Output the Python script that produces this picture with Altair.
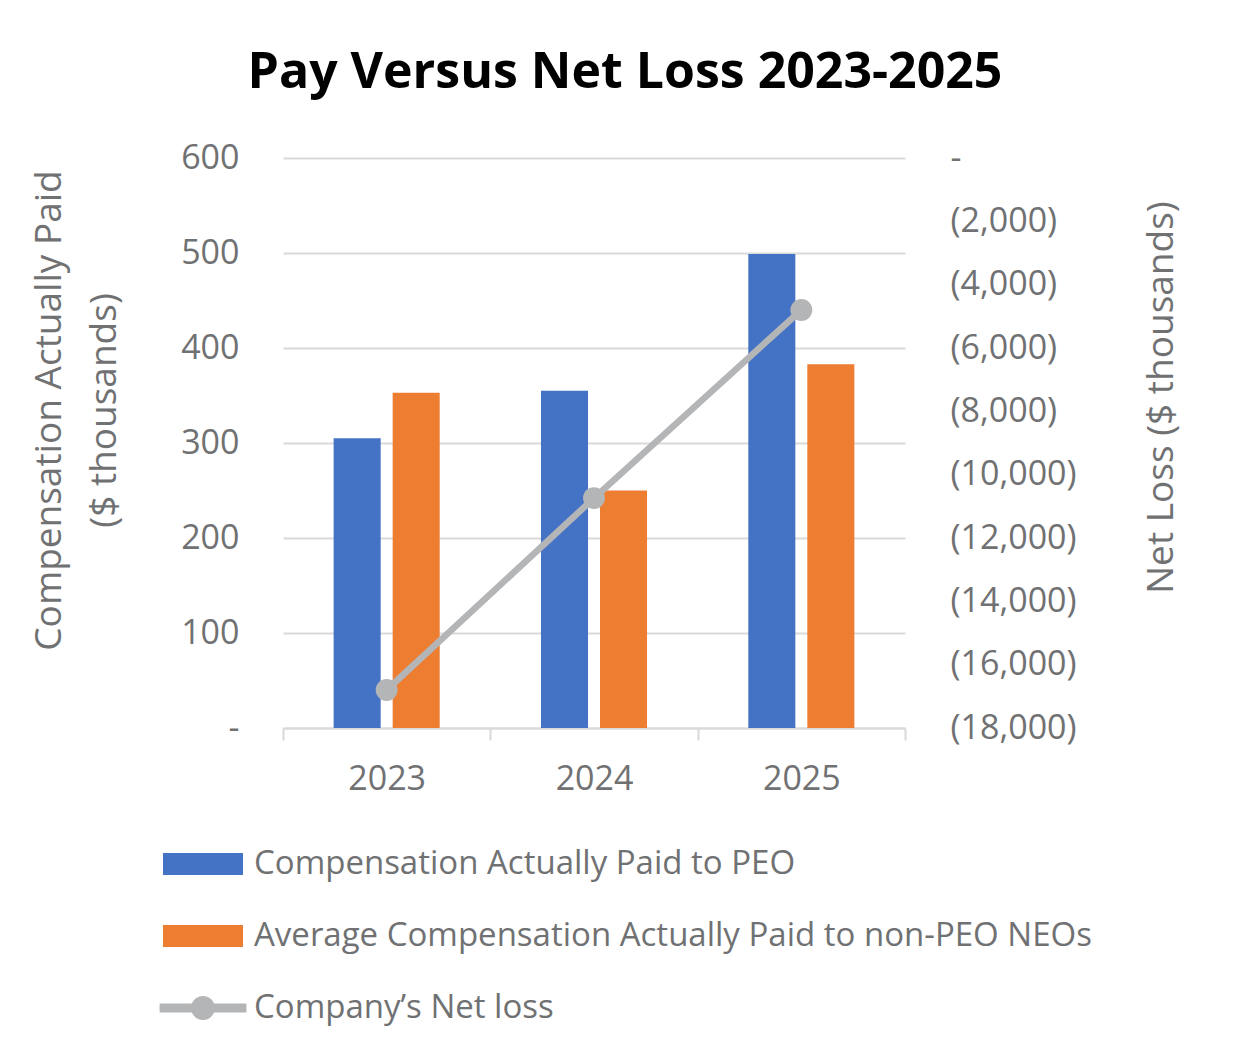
import altair as alt
import pandas as pd

# ---- data ----
years = ["2023", "2024", "2025"]
peo_cap = [305, 355, 499]          # Compensation Actually Paid to PEO ($K)
neo_cap = [353, 250, 383]          # Average CAP to non-PEO NEOs ($K)
net_loss = [-16800, -10740, -4800] # Company's net loss ($K)

bar_series = ["Compensation Actually Paid to PEO",
              "Average Compensation Actually Paid to non-PEO NEOs"]
line_series = "Company\u2019s Net loss"

BLUE, ORANGE, GREY_LINE = "#4472C4", "#ED7D31", "#B4B5B7"
TEXT = "#707173"
GRID = "#D9D9D9"
FONT = "Open Sans"

bar_df = pd.DataFrame({
    "year": years * 2,
    "series": [bar_series[0]] * 3 + [bar_series[1]] * 3,
    "value": peo_cap + neo_cap,
})
line_df = pd.DataFrame({"year": years, "net": net_loss, "series": [line_series] * 3})

rect_path = "M-2,-0.55 L2,-0.55 L2,0.55 L-2,0.55 Z"
line_path = ("M-2.17,-0.23 L2.17,-0.23 L2.17,0.23 L-2.17,0.23 Z "
             "M0.6,0 A0.6,0.6 0 1,1 -0.6,0 A0.6,0.6 0 1,1 0.6,0 Z")

x_enc = alt.X(
    "year:N", sort=years, title=None,
    scale=alt.Scale(paddingInner=0, paddingOuter=0),
    axis=alt.Axis(labelAngle=0, labelFontSize=34, labelColor=TEXT, labelPadding=22,
                  ticks=True, tickBand="extent", tickSize=12, tickColor=GRID, tickWidth=2,
                  domain=True, domainColor=GRID, domainWidth=2, grid=False),
)

bars = alt.Chart(bar_df).mark_bar().encode(
    x=x_enc,
    xOffset=alt.XOffset("series:N", sort=bar_series,
                        scale=alt.Scale(paddingInner=0.203, paddingOuter=0.858)),
    y=alt.Y("value:Q",
            scale=alt.Scale(domain=[0, 600], nice=False),
            axis=alt.Axis(values=[0, 100, 200, 300, 400, 500, 600],
                          labelExpr="datum.value == 0 ? '-' : format(datum.value, ',')",
                          labelFontSize=34, labelColor=TEXT, labelPadding=44,
                          ticks=False, domain=False, grid=True, gridColor=GRID, gridWidth=2,
                          title=["Compensation Actually Paid", "($ thousands)"],
                          titleFontSize=37, titleFontWeight="normal", titleColor=TEXT,
                          titleAngle=270, titleAlign="center", titleBaseline="alphabetic",
                          titleX=-223, titleY=252, titleLineHeight=55)),
    color=alt.Color("series:N",
                    scale=alt.Scale(domain=bar_series, range=[BLUE, ORANGE]),
                    legend=alt.Legend(title=None, orient="none", legendX=-100, legendY=686,
                                      direction="vertical", symbolType=rect_path, symbolSize=1600,
                                      symbolStrokeWidth=0, labelFontSize=33, labelColor=TEXT,
                                      labelOffset=31, rowPadding=35, padding=0, labelLimit=2000)),
)

y_right = alt.Y("net:Q",
                scale=alt.Scale(domain=[-18000, 0], nice=False),
                axis=alt.Axis(orient="right",
                              values=list(range(-18000, 1, 2000)),
                              labelExpr="datum.value == 0 ? '-' : '(' + format(-datum.value, ',') + ')'",
                              labelFontSize=34, labelColor=TEXT, labelPadding=45,
                              ticks=False, domain=False, grid=False,
                              title="Net Loss ($ thousands)", titleFontSize=37,
                              titleFontWeight="normal", titleColor=TEXT,
                              titleAngle=270, titleAlign="center", titleBaseline="alphabetic",
                              titleX=267, titleY=239))

line = alt.Chart(line_df).mark_line(color=GREY_LINE, strokeWidth=6.5).encode(
    x=alt.X("year:N", sort=years),
    y=y_right,
)
points = alt.Chart(line_df).mark_circle(size=480, opacity=1).encode(
    x=alt.X("year:N", sort=years),
    y=alt.Y("net:Q"),
    color=alt.Color("series:N",
                    scale=alt.Scale(domain=[line_series], range=[GREY_LINE]),
                    legend=alt.Legend(title=None, orient="none", legendX=-100, legendY=830,
                                      symbolType=line_path, symbolSize=1600, symbolStrokeWidth=0,
                                      labelFontSize=33, labelColor=TEXT, labelOffset=31,
                                      padding=0, labelLimit=2000)),
)

chart = alt.layer(bars, alt.layer(line, points)).resolve_scale(
    y="independent", color="independent"
).properties(
    width=622, height=570,
    autosize=alt.AutoSizeParams(type="none"),
    padding={"left": 275, "top": 150, "right": 337, "bottom": 328},
    title=alt.TitleParams("Pay Versus Net Loss 2023-2025", fontSize=50, fontWeight="bold",
                          color="#000000", font=FONT, anchor="middle", dx=31,
                          baseline="alphabetic", offset=3),
).configure(font=FONT).configure_view(stroke=None)

chart.save("out.html", embed_options={"renderer": "svg", "actions": False})
